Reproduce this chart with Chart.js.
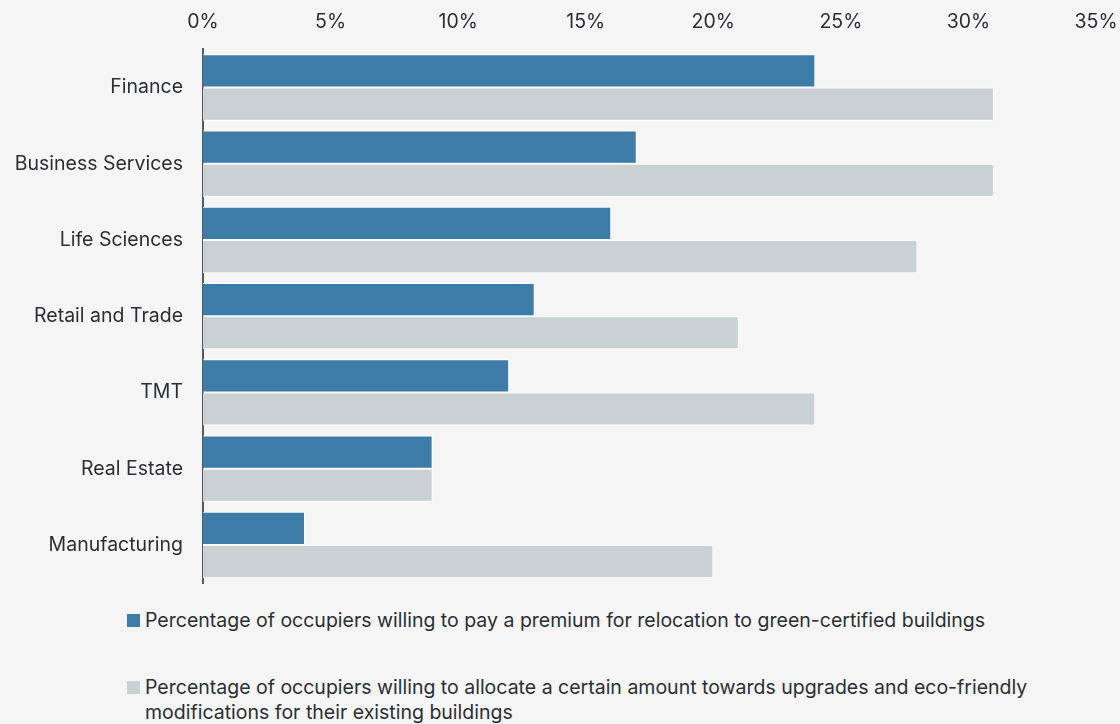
<!DOCTYPE html>
<html>
<head>
<meta charset="utf-8">
<script src="https://cdn.jsdelivr.net/npm/chart.js@4.4.1/dist/chart.umd.min.js"></script>
<style>
  html, body { margin: 0; padding: 0; background: #f5f5f5; }
  body { width: 1120px; height: 724px; overflow: hidden; font-family: Inter, sans-serif; color: #2b2f33; }
  canvas { display: block; position: absolute; left: 0; top: 0; }
  #legend { position: absolute; left: 127px; top: 608px; width: 960px; font-size: 19.5px; line-height: 25px; }
  .item { position: relative; padding-left: 18px; margin-bottom: 42px; }
  .item .sw { position: absolute; left: 0; top: 6px; width: 13px; height: 13px; }
</style>
</head>
<body>
<canvas id="myChart" width="1120" height="592"></canvas>
<div id="legend"></div>
<script>
  // categories and series
  const categories = ['Finance', 'Business Services', 'Life Sciences', 'Retail and Trade', 'TMT', 'Real Estate', 'Manufacturing'];
  const premiumValues = [24, 17, 16, 13, 12, 9, 4];
  const upgradeValues = [31, 31, 28, 21, 24, 9, 20];
  const seriesLabels = [
    'Percentage of occupiers willing to pay a premium for relocation to green-certified buildings',
    'Percentage of occupiers willing to allocate a certain amount towards upgrades and eco-friendly modifications for their existing buildings'
  ];
  const colors = ['#3e7ca8', '#c9d1d3'];

  const datasets = [premiumValues, upgradeValues].map(function(vals, i) {
    return {
      label: seriesLabels[i],
      data: vals,
      backgroundColor: colors[i],
      borderColor: '#ffffff',
      borderWidth: 1,
      barPercentage: 1,
      categoryPercentage: 0.87
    };
  });

  var canvas = document.getElementById('myChart');
  chart = new Chart(canvas, {
    type: 'bar',
    data: { labels: categories, datasets: datasets },
    options: {
      indexAxis: 'y',
      responsive: false,
      maintainAspectRatio: false,
      animation: false,
      // top is negative: something above the x labels eats ~16px otherwise
      layout: { padding: { top: -6, right: 24, bottom: 9, left: 0 } },
      plugins: {
        legend: { display: false },
        tooltip: { enabled: false }
      },
      scales: {
        x: {
          position: 'top',
          min: 0,
          max: 35,
          grid: { display: false, drawTicks: false },
          border: { display: false },
          // let the 35% label hang off the right like in the original
          afterFit: function(scale) {
            scale.paddingLeft = 0;
            scale.paddingRight = 0;
          },
          ticks: {
            stepSize: 5,
            padding: 16,
            color: '#2b2f33',
            font: { family: 'Inter', size: 19.5 },
            callback: function(v) { return v + '%'; }
          }
        },
        y: {
          grid: { display: false, drawTicks: false },
          border: { display: true, color: '#555a5e', width: 2 },
          // fixed width, and drop the edge padding the tick padding adds
          afterFit: function(scale) {
            scale.width = 203;
            scale.paddingTop = 0;
            scale.paddingBottom = 0;
          },
          ticks: {
            padding: 20,
            color: '#2b2f33',
            font: { family: 'Inter', size: 19.5 }
          }
        }
      }
    }
  });

  // html legend so the long second label can wrap
  var legend = document.getElementById('legend');
  seriesLabels.forEach(function(txt, i) {
    var div = document.createElement('div');
    div.className = 'item';
    div.innerHTML = '<span class="sw" style="background:' + colors[i] + '"></span>' + txt;
    legend.appendChild(div);
  });
</script>
</body>
</html>
